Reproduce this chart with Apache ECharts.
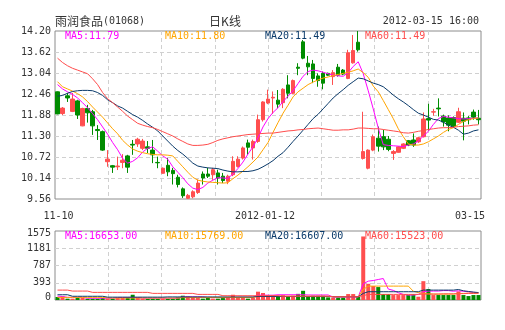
<!DOCTYPE html>
<html><head><meta charset="utf-8">
<script src="https://cdn.jsdelivr.net/npm/echarts@6.0.0/dist/echarts.min.js"></script>
<style>html,body{margin:0;padding:0;background:#fff}#c{width:505px;height:330px}</style>
</head><body><div id="c"></div>
<script>
const dates = ['2011-11-10','2011-11-11','2011-11-14','2011-11-15','2011-11-16','2011-11-17','2011-11-18','2011-11-21','2011-11-22','2011-11-23','2011-11-24','2011-11-25','2011-11-28','2011-11-29','2011-11-30',
'2011-12-01','2011-12-02','2011-12-05','2011-12-06','2011-12-07','2011-12-08','2011-12-09','2011-12-12','2011-12-13','2011-12-14','2011-12-15','2011-12-16','2011-12-19','2011-12-20','2011-12-21','2011-12-22','2011-12-23','2011-12-28','2011-12-29','2011-12-30',
'2012-01-03','2012-01-04','2012-01-05','2012-01-06','2012-01-09','2012-01-10','2012-01-11','2012-01-12','2012-01-13','2012-01-16','2012-01-17','2012-01-18','2012-01-19','2012-01-20','2012-01-26','2012-01-27','2012-01-30','2012-01-31',
'2012-02-01','2012-02-02','2012-02-03','2012-02-06','2012-02-07','2012-02-08','2012-02-09','2012-02-10','2012-02-13','2012-02-14','2012-02-15','2012-02-16','2012-02-17','2012-02-20','2012-02-21','2012-02-22','2012-02-23','2012-02-24','2012-02-27','2012-02-28','2012-02-29',
'2012-03-01','2012-03-02','2012-03-05','2012-03-06','2012-03-07','2012-03-08','2012-03-09','2012-03-12','2012-03-13','2012-03-14','2012-03-15'];

const opens = [12.52,11.92,12.41,11.98,12.27,11.58,12.06,11.97,11.48,11.42, 10.59,10.48,10.45,10.57,10.75,11.07,11.08,10.96,11.00,10.91, 10.57,10.27,10.49,10.35,10.16,9.84,9.58,9.62,9.74,10.25, 10.25,10.23,10.28,10.19,10.05,10.23,10.46,10.69,11.11,10.97, 11.15,11.75,12.21,12.35,12.29,12.22,12.71,12.48,13.20,13.90, 13.31,13.29,12.96,13.03,13.03,12.94,13.20,13.12,12.89,13.32, 13.89,10.68,10.41,10.91,11.24,11.28,11.21,10.82,10.85,10.96, 11.17,11.19,11.14,11.28,11.78,11.96,12.07,11.85,11.80,11.81, 11.68,11.79,11.80,11.96,11.79];
const closes = [11.91,12.07,12.35,12.32,11.88,12.06,11.94,11.58,11.45,10.91, 10.66,10.44,10.47,10.63,10.44,11.05,11.21,11.16,10.96,10.78, 10.56,10.41,10.31,10.26,9.96,9.65,9.66,9.76,10.00,10.14, 10.19,10.37,10.14,10.07,10.19,10.60,10.66,10.97,10.99,11.15, 11.75,12.24,12.32,12.37,12.18,12.59,12.48,12.83,13.17,13.45, 13.21,12.89,12.83,12.76,12.98,13.05,12.98,13.01,13.60,13.66, 13.68,10.87,10.91,11.28,11.02,11.00,10.93,10.87,11.00,11.08, 11.05,11.05,11.25,11.77,11.74,11.97,12.05,11.69,11.60,11.57, 11.97,11.71,11.75,11.82,11.75];
const lows = [11.90,11.88,12.24,11.96,11.77,11.57,11.67,11.33,11.19,10.89, 10.45,10.28,10.36,10.41,10.28,10.78,11.00,10.91,10.83,10.55, 10.41,10.26,10.19,9.96,9.88,9.59,9.56,9.58,9.70,9.96, 10.14,10.09,9.96,10.00,9.97,10.19,10.43,10.65,10.78,10.65, 11.11,11.70,12.18,11.91,12.07,12.07,12.34,12.45,12.98,13.42, 12.98,12.76,12.66,12.59,12.96,12.71,12.94,12.98,12.87,13.30, 13.63,10.65,10.38,10.88,10.87,10.91,10.88,10.64,10.84,10.94, 11.02,11.00,11.11,11.26,11.45,11.86,11.84,11.56,11.43,11.54, 11.66,11.18,11.62,11.75,11.62];
const highs = [12.53,12.10,12.49,12.49,12.30,12.08,12.16,12.02,11.60,11.45, 10.91,10.50,10.73,10.80,10.78,11.19,11.25,11.22,11.16,11.19, 10.73,10.43,10.69,10.42,10.23,9.88,9.70,9.80,10.10,10.32, 10.42,10.42,10.37,10.28,10.23,10.74,10.74,11.01,11.20,11.20, 11.89,12.26,12.58,12.53,12.57,12.62,12.98,12.86,13.31,13.95, 13.51,13.40,13.03,13.08,13.05,13.12,13.29,13.15,13.68,14.09, 14.20,11.97,10.93,11.34,11.56,11.47,11.30,10.91,11.02,11.10, 11.19,11.37,11.28,11.95,12.19,12.05,12.34,11.89,11.87,11.84, 12.08,11.95,11.85,12.03,12.02];

const ma5 = [12.72,12.60,12.52,12.45,12.35,12.22,12.08,11.92,11.75,11.55, 11.35,11.12,10.92,10.68,10.55,10.60,10.70,10.86,10.96,11.00, 10.88,10.75,10.66,10.45,10.30,10.15,9.98,9.86,9.82,9.88, 10.00,10.08,10.15,10.14,10.13,10.25,10.40,10.58,10.80,11.00, 11.25,11.55,11.78,11.95,12.08,12.25,12.40,12.55,12.75,12.95, 13.08,13.12,13.10,13.06,13.02,12.98,12.96,12.95,13.05,13.22, 13.35,13.02,12.55,12.05,11.52,11.06,11.04,11.03,11.02,11.01, 11.05,11.08,11.16,11.30,11.43,11.62,11.78,11.84,11.82,11.80, 11.78,11.77,11.78,11.79,11.80];
const ma10 = [12.80,12.66,12.60,12.54,12.47,12.38,12.25,12.10,11.96,11.82, 11.66,11.50,11.36,11.18,11.05,10.94,10.88,10.84,10.81,10.79, 10.78,10.78,10.77,10.75,10.60,10.45,10.30,10.16,10.08,10.05, 10.03,10.02,10.01,10.00,10.01,10.12,10.22,10.33,10.45,10.58, 10.72,10.92,11.12,11.40,11.67,11.93,12.15,12.38,12.52,12.62, 12.72,12.79,12.85,12.90,12.93,12.97,13.00,13.03,13.06,13.10, 13.15,13.05,12.92,12.68,12.52,12.28,12.03,11.78,11.50,11.28, 11.08,11.05,11.05,11.08,11.14,11.22,11.30,11.40,11.48,11.53, 11.62,11.70,11.75,11.78,11.80];
const ma20 = [12.40,12.42,12.48,12.53,12.55,12.56,12.56,12.55,12.50,12.42, 12.30,12.22,12.13,12.07,11.98,11.89,11.82,11.73,11.63,11.54, 11.44,11.30,11.16,11.02,10.90,10.80,10.68,10.55,10.47,10.44, 10.42,10.41,10.40,10.36,10.33,10.31,10.31,10.32,10.32,10.34, 10.38,10.45,10.53,10.62,10.74,10.84,10.99,11.15,11.30,11.46, 11.62,11.78,11.90,12.05,12.20,12.35,12.47,12.58,12.70,12.80, 12.90,12.88,12.82,12.76,12.72,12.66,12.55,12.43,12.33,12.24, 12.14,12.03,11.93,11.88,11.82,11.76,11.74,11.68,11.60,11.54, 11.46,11.35,11.38,11.44,11.47];
const ma60 = [13.45,13.33,13.24,13.17,13.12,13.07,13.02,12.88,12.72,12.50, 12.33,12.22,12.10,11.98,11.85,11.75,11.65,11.60,11.56,11.53, 11.48,11.42,11.36,11.30,11.22,11.15,11.08,11.04,11.04,11.05, 11.07,11.12,11.18,11.22,11.25,11.28,11.30,11.32,11.34,11.35, 11.36,11.37,11.38,11.38,11.40,11.42,11.44,11.45,11.47,11.48, 11.50,11.51,11.52,11.50,11.48,11.46,11.46,11.47,11.47,11.49, 11.52,11.52,11.51,11.50,11.50,11.48,11.46,11.44,11.42,11.39, 11.38,11.40,11.43,11.45,11.48,11.50,11.52,11.53,11.53,11.54, 11.56,11.57,11.58,11.60,11.61];

const volumes = [68,83,30,30,60,45,30,30,30,45, 30,30,45,45,68,120,60,30,30,30, 30,30,30,30,60,98,83,68,45,30, 60,30,30,45,60,120,45,45,30,45, 190,160,110,110,83,110,83,98,140,210, 83,98,98,98,60,55,55,55,136,136, 68,1450,370,320,295,136,136,113,113,113, 113,136,75,430,250,113,113,113,113,113, 196,113,90,113,113];
const volMa5 = [90,80,60,60,60,60,40,40,40,40, 40,40,55,55,55,55,55,40,40,40, 40,40,40,40,40,70,70,70,70,70, 55,55,55,55,55,55,60,60,60,60, 110,110,110,110,120,120,120,120,120,120, 115,115,115,115,115,68,68,68,68,68, 68,370,430,445,468,490,250,220,166,128, 113,113,128,189,204,204,204,215,215,200, 210,200,185,175,166];
const volMa10 = [60,60,60,60,60,60,60,60,60,60, 45,45,45,45,45,45,45,45,45,45, 45,45,45,45,45,55,55,55,55,55, 55,55,55,55,55,55,55,55,55,55, 85,85,85,85,85,85,85,85,85,85, 85,85,85,85,85,75,75,75,75,75, 75,240,317,317,317,317,317,317,317,317, 317,200,170,150,140,135,135,135,135,135, 150,150,155,158,158];
const volMa20 = [120,120,120,85,85,85,85,85,85,85, 65,65,65,65,65,65,65,65,65,65, 65,65,70,70,70,70,70,70,70,70, 70,70,70,70,70,70,70,70,70,70, 80,80,80,80,80,80,80,80,80,80, 80,80,80,80,80,75,75,75,75,75, 75,150,189,189,189,189,189,189,189,189, 189,189,189,226,226,226,226,226,226,226, 240,210,195,180,170];
const volMa60 = [226,226,226,204,204,204,204,174,174,174, 174,174,174,174,174,174,174,174,174,151, 151,151,151,151,151,151,151,151,128,128, 128,128,128,98,98,98,98,98,98,98, 98,98,98,98,98,85,85,85,85,85, 85,85,85,85,85,75,75,75,75,75, 75,100,128,128,128,128,128,128,128,128, 128,128,128,135,135,135,135,140,140,140, 145,145,150,150,155];

const priceTicks = ['9.56','10.14','10.72','11.30','11.88','12.46','13.04','13.62','14.20'];
const volTicks = ['0','393','787','1181','1575'];
const xTickIdx = [0, 42, 84];
const xTickLabels = ['11-10', '2012-01-12', '03-15'];
const maNames = ['MA5','MA10','MA20','MA60'];
const maLast = ['11.79','11.80','11.49','11.49'];
const volMaLast = ['16653.00','15769.00','16607.00','15523.00'];
const titleName = '雨润食品';
const titleCode = '(01068)';
const titleMid = '日K线';
const titleTime = '2012-03-15 16:00';

const RED = '#ff4f4f', GREEN = '#008c00';
const maColors = ['#ff00ff','#ffa500','#0a3a6a','#ff4c4c'];
const MONO = '"DejaVu Sans Mono", monospace';
const CJK = '"Noto Sans CJK SC", sans-serif';
const dash = {show:true, showMinLine:false, showMaxLine:false, lineStyle:{color:'#d0d0d0', type:[4,3], width:1}};

const candleData = dates.map((d,i)=>[opens[i], closes[i], lows[i], highs[i]]);
const volData = volumes.map((v,i)=>({value:v, itemStyle:{color: closes[i] >= opens[i] ? RED : GREEN}}));

function maSeries(name, data, color, xi, yi){
  return {name, type:'line', data, xAxisIndex:xi, yAxisIndex:yi, showSymbol:false, symbol:'none',
    lineStyle:{width:1, color}, itemStyle:{color}, silent:true, z:3};
}

const texts = [];
maNames.forEach((n,k)=>{
  texts.push({type:'text', x:65+100*k, y:36, style:{text:n+':'+maLast[k], fill:maColors[k], font:'10px '+MONO, textVerticalAlign:'middle', verticalAlign:'middle'}, z:10});
  texts.push({type:'text', x:65+100*k, y:236.5, style:{text:n+':'+volMaLast[k], fill:maColors[k], font:'10px '+MONO, textVerticalAlign:'middle', verticalAlign:'middle'}, z:10});
});
texts.push({type:'text', x:55, y:21, style:{text:'{a|'+titleName+'}{b|'+titleCode+'}', rich:{a:{fontSize:12, fontFamily:CJK, fill:'#333'}, b:{fontSize:10, fontFamily:MONO, fill:'#333'}}, verticalAlign:'middle', textVerticalAlign:'middle'}});
texts.push({type:'text', x:225, y:21, style:{text:titleMid, fill:'#333', font:'12px '+CJK, align:'center', textAlign:'center', verticalAlign:'middle', textVerticalAlign:'middle'}});
texts.push({type:'text', x:479, y:21, style:{text:titleTime, fill:'#333', font:'10px '+MONO, align:'right', textAlign:'right', verticalAlign:'middle', textVerticalAlign:'middle'}});

const chart = echarts.init(document.getElementById('c'), null, {renderer:'canvas'});
chart.setOption({
  animation:false,
  backgroundColor:'#fff',
  textStyle:{fontFamily:MONO},
  grid:[
    {left:55, top:31, width:426, height:168, show:true, borderColor:'#8c8c8c', borderWidth:1, backgroundColor:'transparent'},
    {left:55, top:231, width:426, height:69, show:true, borderColor:'#8c8c8c', borderWidth:1, backgroundColor:'transparent'}
  ],
  xAxis:[
    {type:'category', gridIndex:0, data:dates, boundaryGap:true, position:'bottom', axisLine:{show:false}, axisTick:{show:false}, splitLine:{show:false},
      axisLabel:{show:true, customValues:xTickIdx, interval:0, margin:12, color:'#333', fontSize:10, fontFamily:MONO,
        formatter:(v)=>{const k = xTickIdx.indexOf(dates.indexOf(v)); if(k<0) return ''; const t = xTickLabels[k]; return k===0?'{s|'+t+'}':(k===1?'{m|'+t+'}':'{e|'+t+'}');},
        rich:{s:{fontSize:10,fontFamily:MONO,color:'#333',padding:[0,0,0,2]}, m:{fontSize:10,fontFamily:MONO,color:'#333',padding:[0,6,0,0]}, e:{fontSize:10,fontFamily:MONO,color:'#333',padding:[0,17,0,0]}}}},
    {type:'value', gridIndex:0, min:0, max:8, interval:1, position:'top', axisLine:{show:false}, axisTick:{show:false}, axisLabel:{show:false}, splitLine:dash},
    {type:'category', gridIndex:1, data:dates, boundaryGap:true, position:'bottom', axisLine:{show:false}, axisTick:{show:false}, axisLabel:{show:false}, splitLine:{show:false}},
    {type:'value', gridIndex:1, min:0, max:8, interval:1, position:'top', axisLine:{show:false}, axisTick:{show:false}, axisLabel:{show:false}, splitLine:dash}
  ],
  yAxis:[
    {type:'value', gridIndex:0, min:9.56, max:14.20, position:'right', show:false, splitLine:{show:false}},
    {type:'value', gridIndex:0, min:0, max:8, interval:1, position:'left', axisLine:{show:false}, axisTick:{show:false}, splitLine:dash,
      axisLabel:{margin:4, color:'#333', fontSize:10, fontFamily:MONO, formatter:(v)=>priceTicks[Math.round(v)]}},
    {type:'value', gridIndex:1, min:0, max:1575, interval:393.75, position:'left', axisLine:{show:false}, axisTick:{show:false}, splitLine:dash,
      axisLabel:{margin:4, color:'#333', fontSize:10, fontFamily:MONO,
        formatter:(v)=>{const k=Math.round(v/393.75); const t=volTicks[k]; return k===0?'{b|'+t+'}':(k===4?'{t|'+t+'}':t);},
        rich:{b:{fontSize:10,fontFamily:MONO,color:'#333',padding:[0,0,6,0]}, t:{fontSize:10,fontFamily:MONO,color:'#333',padding:[5,0,0,0]}}}}
  ],
  series:[
    {type:'candlestick', name:'K', data:candleData, xAxisIndex:0, yAxisIndex:0, barWidth:4, z:2,
      itemStyle:{color:RED, color0:GREEN, borderColor:RED, borderColor0:GREEN, borderWidth:1}},
    maSeries('MA5', ma5, maColors[0], 0, 0),
    maSeries('MA10', ma10, maColors[1], 0, 0),
    maSeries('MA20', ma20, maColors[2], 0, 0),
    maSeries('MA60', ma60, maColors[3], 0, 0),
    {type:'bar', name:'VOL', data:volData, xAxisIndex:2, yAxisIndex:2, barWidth:4, z:2},
    maSeries('VMA5', volMa5, maColors[0], 2, 2),
    maSeries('VMA10', volMa10, maColors[1], 2, 2),
    maSeries('VMA20', volMa20, maColors[2], 2, 2),
    maSeries('VMA60', volMa60, maColors[3], 2, 2)
  ],
  graphic:texts
});
</script></body></html>
